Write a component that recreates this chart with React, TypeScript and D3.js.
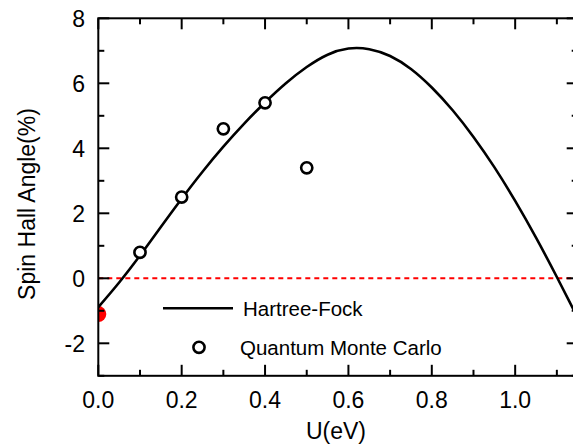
import React from "react";
import * as d3 from "d3";

// Hartree-Fock spin Hall angle (%) versus U (eV)
const hfU = [0, 0.05, 0.1, 0.15, 0.2, 0.25, 0.3, 0.35, 0.4, 0.45, 0.5, 0.55, 0.6, 0.65, 0.7, 0.75, 0.8, 0.85, 0.9, 0.95, 1.0, 1.05, 1.1, 1.15];
const hfAngle = [-0.89, -0.13, 0.7, 1.58, 2.45, 3.28, 4.05, 4.76, 5.41, 6.0, 6.5, 6.88, 7.07, 7.05, 6.84, 6.44, 5.87, 5.17, 4.35, 3.42, 2.38, 1.25, 0.04, -1.22];

// Quantum Monte Carlo results
const qmcU = [0.1, 0.2, 0.3, 0.4, 0.5];
const qmcAngle = [0.8, 2.5, 4.6, 5.4, 3.4];

// Single highlighted point at U = 0
const markU = [0];
const markAngle = [-1.1];

const xMajorTicks = [0, 0.2, 0.4, 0.6, 0.8, 1.0];
const xMinorTicks = [0.1, 0.3, 0.5, 0.7, 0.9, 1.1];
const yMajorTicks = [-2, 0, 2, 4, 6, 8];
const yMinorTicks = [-3, -1, 1, 3, 5, 7];

const legendLabels = ["Hartree-Fock", "Quantum Monte Carlo"];

const W = 573;
const H = 446;
const left = 98.3;
const right = 577.7;
const top = 18.3;
const bottom = 375.8;

const font = "'Liberation Sans', Arial, Helvetica, sans-serif";

export default function App() {
  const x = d3.scaleLinear().domain([0, 1.15]).range([left, right]);
  const y = d3.scaleLinear().domain([-3, 8]).range([bottom, top]);

  const hfPoints: [number, number][] = hfU.map((u, i) => [u, hfAngle[i]]);
  const line = d3
    .line<[number, number]>()
    .x((d) => x(d[0]))
    .y((d) => y(d[1]))
    .curve(d3.curveNatural);

  const majorLen = 11;
  const minorLen = 6;
  const axisW = 2;

  return (
    <svg
      width={W}
      height={H}
      style={{ position: "absolute", left: 0, top: 0, background: "#fff" }}
      fontFamily={font}
    >
      <defs>
        <clipPath id="plotClip">
          <rect x={left} y={top} width={right - left} height={bottom - top} />
        </clipPath>
      </defs>

      <g clipPath="url(#plotClip)">
        {/* zero reference */}
        <line
          x1={x(0)}
          x2={x(1.15)}
          y1={y(0)}
          y2={y(0)}
          stroke="#ff0000"
          strokeWidth={2}
          strokeDasharray="5,4"
        />
        {markU.map((u, i) => (
          <circle key={"m" + i} cx={x(u)} cy={y(markAngle[i])} r={8} fill="#ff0000" />
        ))}
        <path d={line(hfPoints) || ""} fill="none" stroke="#000" strokeWidth={2.6} />
        {qmcU.map((u, i) => (
          <circle
            key={"q" + i}
            cx={x(u)}
            cy={y(qmcAngle[i])}
            r={5.6}
            fill="#fff"
            stroke="#000"
            strokeWidth={2.6}
          />
        ))}
      </g>

      {/* frame */}
      <rect
        x={left}
        y={top}
        width={right - left}
        height={bottom - top}
        fill="none"
        stroke="#000"
        strokeWidth={axisW}
      />

      {/* x ticks, bottom and top, pointing inward */}
      {xMajorTicks.map((t) => (
        <g key={"xM" + t}>
          <line x1={x(t)} x2={x(t)} y1={bottom} y2={bottom - majorLen} stroke="#000" strokeWidth={axisW} />
          <line x1={x(t)} x2={x(t)} y1={top} y2={top + majorLen} stroke="#000" strokeWidth={axisW} />
          <text x={x(t)} y={408} fontSize={23} textAnchor="middle" fill="#000">
            {t.toFixed(1)}
          </text>
        </g>
      ))}
      {xMinorTicks.map((t) => (
        <g key={"xm" + t}>
          <line x1={x(t)} x2={x(t)} y1={bottom} y2={bottom - minorLen} stroke="#000" strokeWidth={axisW} />
          <line x1={x(t)} x2={x(t)} y1={top} y2={top + minorLen} stroke="#000" strokeWidth={axisW} />
        </g>
      ))}

      {/* y ticks, left and right, pointing inward */}
      {yMajorTicks.map((t) => (
        <g key={"yM" + t}>
          <line x1={left} x2={left + majorLen} y1={y(t)} y2={y(t)} stroke="#000" strokeWidth={axisW} />
          <line x1={right} x2={right - majorLen} y1={y(t)} y2={y(t)} stroke="#000" strokeWidth={axisW} />
          <text x={85} y={y(t)} dy="0.36em" fontSize={23} textAnchor="end" fill="#000">
            {t}
          </text>
        </g>
      ))}
      {yMinorTicks.map((t) => (
        <g key={"ym" + t}>
          <line x1={left} x2={left + minorLen} y1={y(t)} y2={y(t)} stroke="#000" strokeWidth={axisW} />
          <line x1={right} x2={right - minorLen} y1={y(t)} y2={y(t)} stroke="#000" strokeWidth={axisW} />
        </g>
      ))}

      {/* axis titles */}
      <text x={336} y={439} fontSize={23} textAnchor="middle" fill="#000">
        U(eV)
      </text>
      <text
        transform="translate(35,204) rotate(-90)"
        fontSize={23}
        textAnchor="middle"
        fill="#000"
      >
        Spin Hall Angle(%)
      </text>

      {/* legend */}
      <line x1={163} x2={233} y1={308.3} y2={308.3} stroke="#000" strokeWidth={2.6} />
      <text x={243} y={308.3} dy="0.36em" fontSize={20.5} fill="#000">
        {legendLabels[0]}
      </text>
      <circle cx={199} cy={347.3} r={5.6} fill="#fff" stroke="#000" strokeWidth={2.6} />
      <text x={240} y={347.3} dy="0.36em" fontSize={20.5} fill="#000">
        {legendLabels[1]}
      </text>
    </svg>
  );
}
